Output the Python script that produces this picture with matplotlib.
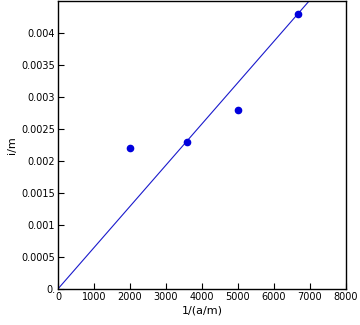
import matplotlib
matplotlib.use("Agg")
import matplotlib.pyplot as plt
import numpy as np

x_vals = [2000, 3571, 5000, 6667]
y_vals = [0.0022, 0.0023, 0.0028, 0.0043]
slope = 6.45e-7
x_ticks = [0, 1000, 2000, 3000, 4000, 5000, 6000, 7000, 8000]
y_ticks = [0, 0.0005, 0.001, 0.0015, 0.002, 0.0025, 0.003, 0.0035, 0.004]
y_labels = ["0.", "0.0005", "0.001", "0.0015", "0.002", "0.0025", "0.003", "0.0035", "0.004"]

fig = plt.figure(figsize=(3.6, 3.25), dpi=100)
ax = fig.add_axes([0.161, 0.111, 0.800, 0.886])

xl = np.array([0, 8000])
ax.plot(xl, slope * xl, color="#1a1acc", lw=0.8)
ax.plot(x_vals, y_vals, "o", color="#0000dd", ms=4.5)

ax.set_xlim(0, 8000)
ax.set_ylim(0, 0.0045)
ax.set_xticks(x_ticks)
ax.set_xticklabels([str(t) for t in x_ticks])
ax.set_yticks(y_ticks)
ax.set_yticklabels(y_labels)
ax.tick_params(direction="in", length=4, width=0.8, labelsize=7, pad=2)
ax.set_xlabel("1/(a/m)", fontsize=8, labelpad=3)
ax.set_ylabel("i/m", fontsize=8, labelpad=3)
for s in ax.spines.values():
    s.set_linewidth(1.0)

fig.savefig("out.png", dpi=100)
